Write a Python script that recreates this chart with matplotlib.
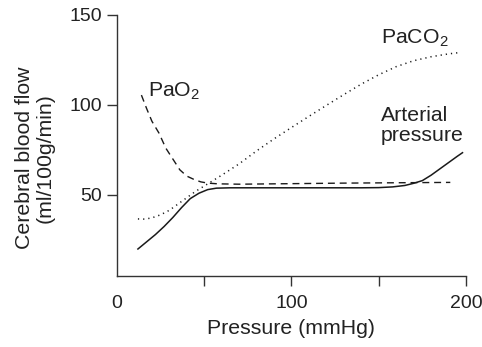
import matplotlib
matplotlib.use('Agg')
import matplotlib.pyplot as plt

plt.rcParams['font.family'] = ['Liberation Sans', 'DejaVu Sans']
plt.rcParams['mathtext.fontset'] = 'custom'
plt.rcParams['mathtext.rm'] = 'Liberation Sans'
plt.rcParams['mathtext.default'] = 'regular'

# Arterial pressure (solid)
art_x = [12, 17, 22, 27, 32, 37, 42, 47, 52, 57, 65, 80, 100, 120, 140, 150, 158, 165, 170, 175, 180, 185, 190, 195, 198]
art_y = [20, 24, 28, 32.5, 37.5, 43, 48, 51, 53, 53.8, 54, 54, 54, 54, 54, 54.1, 54.5, 55.3, 56.5, 58, 61, 64.5, 68, 71.5, 73.5]

# PaO2 (dashed)
pao2_x = [14, 17, 20, 24, 28, 32, 36, 40, 44, 48, 52, 58, 70, 100, 130, 160, 191]
pao2_y = [105.5, 98, 91, 84.5, 76, 70, 64, 60.5, 58.7, 57.3, 56.6, 56.2, 56, 56.3, 56.6, 56.8, 57]

# PaCO2 (dotted)
paco2_x = [12, 16, 20, 25, 30, 35, 40, 45, 50, 60, 70, 80, 90, 100, 110, 120, 130, 140, 150, 160, 170, 180, 190, 197]
paco2_y = [36.7, 36.6, 37.3, 39, 41.5, 45, 48.5, 52, 55, 61, 67.3, 74.5, 81.2, 87.5, 93.7, 99.8, 105.8, 111.6, 116.8, 121.3, 124.6, 126.8, 128.4, 129.2]

xticks = [0, 50, 100, 150, 200]
xticklabels = ['0', '', '100', '', '200']
yticks = [50, 100, 150]

fig = plt.figure(figsize=(4.82, 3.47), dpi=100)
ax = fig.add_axes([0.2427, 0.2046, 0.7241, 0.7522])

lc = '#1a1a1a'
ax.plot(art_x, art_y, color=lc, lw=1.1)
ax.plot(pao2_x, pao2_y, color=lc, lw=1.0, linestyle=(0, (5, 3.5)))
ax.plot(paco2_x, paco2_y, color=lc, lw=1.1, linestyle=(0, (0.8, 2.6)))

ax.set_xlim(0, 200)
ax.set_ylim(5, 150)
ax.set_xticks(xticks)
ax.set_xticklabels(xticklabels)
ax.set_yticks(yticks)
ax.xaxis.get_major_ticks()[0].tick1line.set_visible(False)

for s in ['top', 'right']:
    ax.spines[s].set_visible(False)
for s in ['left', 'bottom']:
    ax.spines[s].set_color('#333333')
    ax.spines[s].set_linewidth(1.0)

ax.tick_params(direction='out', length=7, width=1.0, color='#333333',
               labelsize=14, labelcolor='#222222', pad=4)
ax.tick_params(axis='x', pad=7)

txt = '#222222'
fs = 15.3
ax.set_xlabel('Pressure (mmHg)', fontsize=fs, color=txt, labelpad=5)
ax.set_ylabel('Cerebral blood flow\n(ml/100g/min)', fontsize=fs, color=txt,
              linespacing=1.1)
ax.yaxis.set_label_coords(-0.178, 0.452)

ax.text(17.8, 107.8, 'PaO$_2$', fontsize=fs, color=txt, va='center', ha='left')
ax.text(151.5, 137.2, 'PaCO$_2$', fontsize=fs, color=txt, va='center', ha='left')
ax.text(151, 88.5, 'Arterial\npressure', fontsize=fs, color=txt,
        va='center', ha='left', linespacing=1.1)

fig.savefig('out.png', dpi=100)
